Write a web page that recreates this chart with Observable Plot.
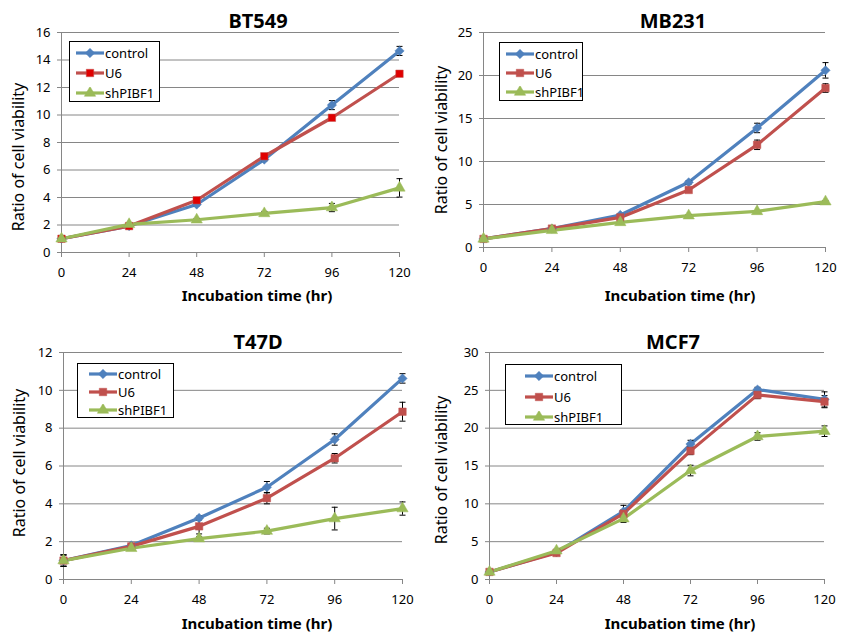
<!DOCTYPE html>
<html><head><meta charset="utf-8">
<script src="https://cdn.jsdelivr.net/npm/d3@7"></script>
<script src="https://cdn.jsdelivr.net/npm/@observablehq/plot@0.6"></script>
<style>
body{margin:0;background:#fff;font-family:"Noto Sans",sans-serif;color:#000;}
#root{position:relative;width:856px;height:637px;overflow:hidden;background:#fff;}
.panel{position:absolute;}
.title{position:absolute;font-weight:bold;font-size:20px;transform:translate(-50%,-50%);white-space:nowrap;}
.xlab{position:absolute;font-weight:bold;font-size:15px;transform:translate(-50%,-50%);white-space:nowrap;}
.ylab{position:absolute;font-size:16px;transform:translate(-50%,-50%) rotate(-90deg);white-space:nowrap;}
.legend{position:absolute;border:1px solid #000;background:#fff;box-sizing:border-box;padding:1px 0 0 5px;overflow:visible;}
.legend .row{display:flex;align-items:center;height:20px;font-size:13px;white-space:nowrap;}
.legend svg{margin-right:1px;flex:none;}
</style>
</head><body><div id="root"></div>
<script>
// ---- data ----
const hours = [0, 24, 48, 72, 96, 120];
const seriesNames = ["control", "U6", "shPIBF1"];
const xLabel = "Incubation time (hr)";
const yLabel = "Ratio of cell viability";

const bt549Ticks = [0, 2, 4, 6, 8, 10, 12, 14, 16];
const bt549Control = [1.0, 1.92, 3.49, 6.76, 10.72, 14.66];
const bt549U6 = [1.0, 1.92, 3.8, 7.0, 9.8, 13.0];
const bt549Sh = [1.0, 2.05, 2.38, 2.84, 3.27, 4.7];
const bt549ControlErr = [0.05, 0.1, 0.1, 0.1, 0.33, 0.33];
const bt549U6Err = [0.05, 0.1, 0.1, 0.15, 0.15, 0.15];
const bt549ShErr = [0.05, 0.1, 0.1, 0.15, 0.3, 0.67];

const mb231Ticks = [0, 5, 10, 15, 20, 25];
const mb231Control = [1.0, 2.2, 3.78, 7.58, 13.9, 20.6];
const mb231U6 = [1.0, 2.2, 3.5, 6.69, 11.94, 18.54];
const mb231Sh = [1.0, 2.0, 2.92, 3.7, 4.2, 5.33];
const mb231ControlErr = [0.05, 0.1, 0.1, 0.2, 0.55, 0.9];
const mb231U6Err = [0.05, 0.1, 0.1, 0.2, 0.55, 0.5];
const mb231ShErr = [0.05, 0.1, 0.1, 0.1, 0.1, 0.1];

const t47dTicks = [0, 2, 4, 6, 8, 10, 12];
const t47dControl = [1.0, 1.8, 3.25, 4.88, 7.4, 10.63];
const t47dU6 = [1.0, 1.75, 2.81, 4.3, 6.41, 8.87];
const t47dSh = [1.0, 1.65, 2.16, 2.56, 3.22, 3.75];
const t47dControlErr = [0.3, 0.05, 0.1, 0.3, 0.3, 0.25];
const t47dU6Err = [0.3, 0.05, 0.4, 0.3, 0.25, 0.5];
const t47dShErr = [0.3, 0.05, 0.1, 0.15, 0.6, 0.35];

const mcf7Ticks = [0, 5, 10, 15, 20, 25, 30];
const mcf7Control = [1.0, 3.6, 9.0, 17.9, 25.1, 23.8];
const mcf7U6 = [1.0, 3.5, 8.7, 17.0, 24.4, 23.5];
const mcf7Sh = [1.0, 3.8, 8.04, 14.4, 18.9, 19.6];
const mcf7ControlErr = [0.1, 0.2, 0.8, 0.5, 0.3, 1.0];
const mcf7U6Err = [0.1, 0.2, 0.5, 0.5, 0.5, 0.8];
const mcf7ShErr = [0.1, 0.2, 0.5, 0.7, 0.5, 0.7];

// ---- styles ----
const lineColors = ["#4F81BD", "#C0504D", "#9BBB59"];
const symbols = ["diamond2", "square", "triangle"];
const FONT = '"Noto Sans", sans-serif';

function rowsFor(vals, errs) {
  const out = [];
  seriesNames.forEach((s, i) => hours.forEach((t, j) => out.push({s, t, v: vals[i][j], e: errs[i][j]})));
  return out;
}

const panels = [
  {name: "BT549", ticks: bt549Ticks, vals: [bt549Control, bt549U6, bt549Sh], errs: [bt549ControlErr, bt549U6Err, bt549ShErr],
   markers: ["#4F81BD", "#E00000", "#9BBB59"],
   box: {left: 0, top: 0, width: 428, height: 310, ml: 61, mr: 29, mt: 32, mb: 58},
   title: [258, 20], xl: [257, 295], yl: [18, 157], legend: [69, 41, 91, 61]},
  {name: "MB231", ticks: mb231Ticks, vals: [mb231Control, mb231U6, mb231Sh], errs: [mb231ControlErr, mb231U6Err, mb231ShErr],
   markers: lineColors,
   box: {left: 428, top: 0, width: 428, height: 310, ml: 55, mr: 31, mt: 32, mb: 63},
   title: [673, 20], xl: [680, 295], yl: [441, 140], legend: [499, 42, 84, 59]},
  {name: "T47D", ticks: t47dTicks, vals: [t47dControl, t47dU6, t47dSh], errs: [t47dControlErr, t47dU6Err, t47dShErr],
   markers: lineColors,
   box: {left: 0, top: 320, width: 428, height: 317, ml: 63, mr: 26, mt: 32, mb: 58},
   title: [258, 341], xl: [257, 623], yl: [19, 463], legend: [77, 363, 97, 55]},
  {name: "MCF7", ticks: mcf7Ticks, vals: [mcf7Control, mcf7U6, mcf7Sh], errs: [mcf7ControlErr, mcf7U6Err, mcf7ShErr],
   markers: lineColors,
   box: {left: 428, top: 320, width: 428, height: 317, ml: 61, mr: 32, mt: 32, mb: 58},
   title: [673, 341], xl: [680, 623], yl: [441, 470], legend: [505, 364, 117, 61]}
];

const legendPad = [1, 1, 6, 14];     // extra left inset per panel legend
const legendRowH = [20, 19, 18, 20.5];

const capSymbol = {
  draw(ctx, size) {
    const w = Math.sqrt(size / Math.PI);
    ctx.moveTo(-w, 0); ctx.lineTo(w, 0);
  }
};

const root = document.getElementById("root");

function div(cls, text, x, y) {
  const d = document.createElement("div");
  d.className = cls; d.textContent = text;
  d.style.left = x + "px"; d.style.top = y + "px";
  root.appendChild(d);
  return d;
}

panels.forEach((p, pi) => {
  const rows = rowsFor(p.vals, p.errs);
  const b = p.box;
  const ymax = p.ticks[p.ticks.length - 1];
  const chart = Plot.plot({
    width: b.width, height: b.height,
    marginLeft: b.ml, marginRight: b.mr, marginTop: b.mt, marginBottom: b.mb,
    style: {fontFamily: FONT, fontSize: "13px", color: "#000", background: "transparent", overflow: "visible"},
    x: {domain: [0, 120]},
    y: {domain: [0, ymax]},
    color: {domain: seriesNames, range: lineColors},
    symbol: {domain: seriesNames, range: symbols},
    marks: [
      Plot.gridY(p.ticks, {stroke: "#868686", strokeOpacity: 1}),
      Plot.ruleX([0], {stroke: "#868686"}),
      Plot.ruleY([0], {stroke: "#868686"}),
      Plot.axisY(p.ticks, {tickSize: 4, tickPadding: 7, stroke: "#868686", label: null}),
      Plot.axisX(hours, {tickSize: 5, tickPadding: 10, stroke: "#868686", label: null}),
      Plot.line(rows, {x: "t", y: "v", z: "s", stroke: "s", strokeWidth: 3.2}),
      Plot.ruleX(rows, {x: "t", y1: d => d.v - d.e, y2: d => d.v + d.e, stroke: "#000", strokeWidth: 1}),
      Plot.dot(rows, {x: "t", y: d => d.v + d.e, symbol: capSymbol, r: 3, stroke: "#000", strokeWidth: 1}),
      Plot.dot(rows, {x: "t", y: d => d.v - d.e, symbol: capSymbol, r: 3, stroke: "#000", strokeWidth: 1}),
      ...seriesNames.map((s, i) => Plot.dot(rows.filter(d => d.s === s), {
        x: "t", y: "v", symbol: symbols[i], fill: p.markers[i], stroke: lineColors[i], strokeWidth: 0.5, r: 4.2
      }))
    ]
  });
  const wrap = document.createElement("div");
  wrap.className = "panel";
  wrap.style.left = b.left + "px"; wrap.style.top = b.top + "px";
  wrap.appendChild(chart);
  root.appendChild(wrap);

  div("title", p.name, p.title[0], p.title[1]);
  div("xlab", xLabel, p.xl[0], p.xl[1]);
  div("ylab", yLabel, p.yl[0], p.yl[1]);

  // legend
  const [lx, ly, lw, lh] = p.legend;
  const lg = document.createElement("div");
  lg.className = "legend";
  lg.style.left = lx + "px"; lg.style.top = ly + "px";
  lg.style.width = lw + "px"; lg.style.height = lh + "px";
  lg.style.paddingLeft = (5 + legendPad[pi]) + "px";
  seriesNames.forEach((s, i) => {
    const r = document.createElement("div"); r.className = "row";
    r.style.height = legendRowH[pi] + "px";
    const svg = d3.create("svg").attr("width", 28).attr("height", 12);
    svg.append("line").attr("x1", 0).attr("x2", 28).attr("y1", 6).attr("y2", 6)
      .attr("stroke", lineColors[i]).attr("stroke-width", 3.2);
    const sym = [d3.symbolDiamond2, d3.symbolSquare, d3.symbolTriangle][i];
    svg.append("path").attr("transform", "translate(14,6)")
      .attr("d", d3.symbol(sym, Math.PI * 4.2 * 4.2)())
      .attr("fill", p.markers[i]).attr("stroke", lineColors[i]).attr("stroke-width", 0.5);
    r.appendChild(svg.node());
    const t = document.createElement("span"); t.textContent = s;
    r.appendChild(t);
    lg.appendChild(r);
  });
  root.appendChild(lg);
});
</script>
</body></html>
